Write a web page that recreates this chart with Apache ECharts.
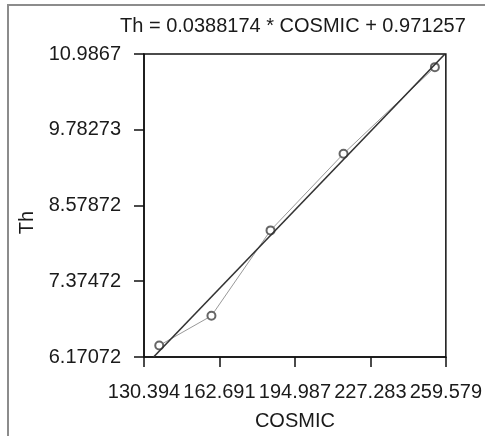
<!DOCTYPE html>
<html>
<head>
<meta charset="utf-8">
<script src="https://cdn.jsdelivr.net/npm/echarts@6/dist/echarts.min.js"></script>
<style>
  html, body { margin: 0; padding: 0; background: #fff; }
  #chart { width: 485px; height: 436px; }
</style>
</head>
<body>
<div id="chart"></div>
<script>
// Tick values printed on the axes
const xTicks = [130.394, 162.691, 194.987, 227.283, 259.579];
const yTicks = [6.17072, 7.37472, 8.57872, 9.78273, 10.9867];

// Observed points (COSMIC, Th)
const cosmic = [136.92, 159.26, 184.54, 215.79, 254.89];
const th = [6.354, 6.825, 8.183, 9.402, 10.778];

// Fitted line ends
const fitX = [134.5, 259.2];
const fitY = [6.17072, 10.9867];

const fontFamily = "'Liberation Sans', Arial, sans-serif";
const textColor = "#1a1a1a";

const pairs = (xs, ys) => xs.map((x, i) => [x, ys[i]]);

const chart = echarts.init(document.getElementById("chart"));
chart.setOption({
  backgroundColor: "#fff",
  animation: false,
  title: {
    text: "Th = 0.0388174 * COSMIC + 0.971257",
    left: 120,
    top: 16,
    padding: 0,
    textStyle: { fontFamily, fontSize: 20, fontWeight: "normal", color: textColor }
  },
  graphic: [
    {
      type: "rect",
      shape: { x: 8, y: 5, width: 500, height: 460 },
      style: { fill: "none", stroke: "#8c8c8c", lineWidth: 2 },
      silent: true
    }
  ],
  grid: {
    left: 144, right: 38, top: 54, bottom: 75,
    show: true, borderColor: "#111", borderWidth: 1.5, backgroundColor: "#fff"
  },
  xAxis: {
    type: "value",
    min: xTicks[0],
    max: xTicks[xTicks.length - 1],
    name: "COSMIC",
    nameLocation: "middle",
    nameGap: 54,
    nameTextStyle: { fontFamily, fontSize: 20, color: textColor },
    axisLine: { show: true, lineStyle: { color: "#111", width: 1.5 } },
    axisTick: { show: true, length: 10, customValues: xTicks, lineStyle: { color: "#111", width: 1.5 } },
    axisLabel: {
      customValues: xTicks,
      formatter: v => String(v),
      margin: 25,
      fontFamily, fontSize: 20, color: textColor,
      showMinLabel: true, showMaxLabel: true, hideOverlap: false
    },
    splitLine: { show: false }
  },
  yAxis: {
    type: "value",
    min: yTicks[0],
    max: yTicks[yTicks.length - 1],
    name: "Th",
    nameLocation: "middle",
    nameRotate: 90,
    nameGap: 102,
    nameTextStyle: { fontFamily, fontSize: 20, color: textColor, padding: [0, 34, 0, 0] },
    axisLine: { show: true, lineStyle: { color: "#111", width: 1.5 } },
    axisTick: { show: true, length: 10, customValues: yTicks, lineStyle: { color: "#111", width: 1.5 } },
    axisLabel: {
      customValues: yTicks,
      formatter: v => String(v),
      margin: 23,
      fontFamily, fontSize: 20, color: textColor,
      showMinLabel: true, showMaxLabel: true, hideOverlap: false
    },
    splitLine: { show: false }
  },
  series: [
    {
      name: "fit",
      type: "line",
      data: pairs(fitX, fitY),
      showSymbol: false,
      clip: true,
      lineStyle: { color: "#333", width: 1.6 },
      z: 3
    },
    {
      name: "Th",
      type: "line",
      data: pairs(cosmic, th),
      symbol: "emptyCircle",
      symbolSize: 8,
      showSymbol: true,
      lineStyle: { color: "#999", width: 1 },
      itemStyle: { color: "#666", borderColor: "#666", borderWidth: 1 },
      z: 2
    }
  ]
});
</script>
</body>
</html>
